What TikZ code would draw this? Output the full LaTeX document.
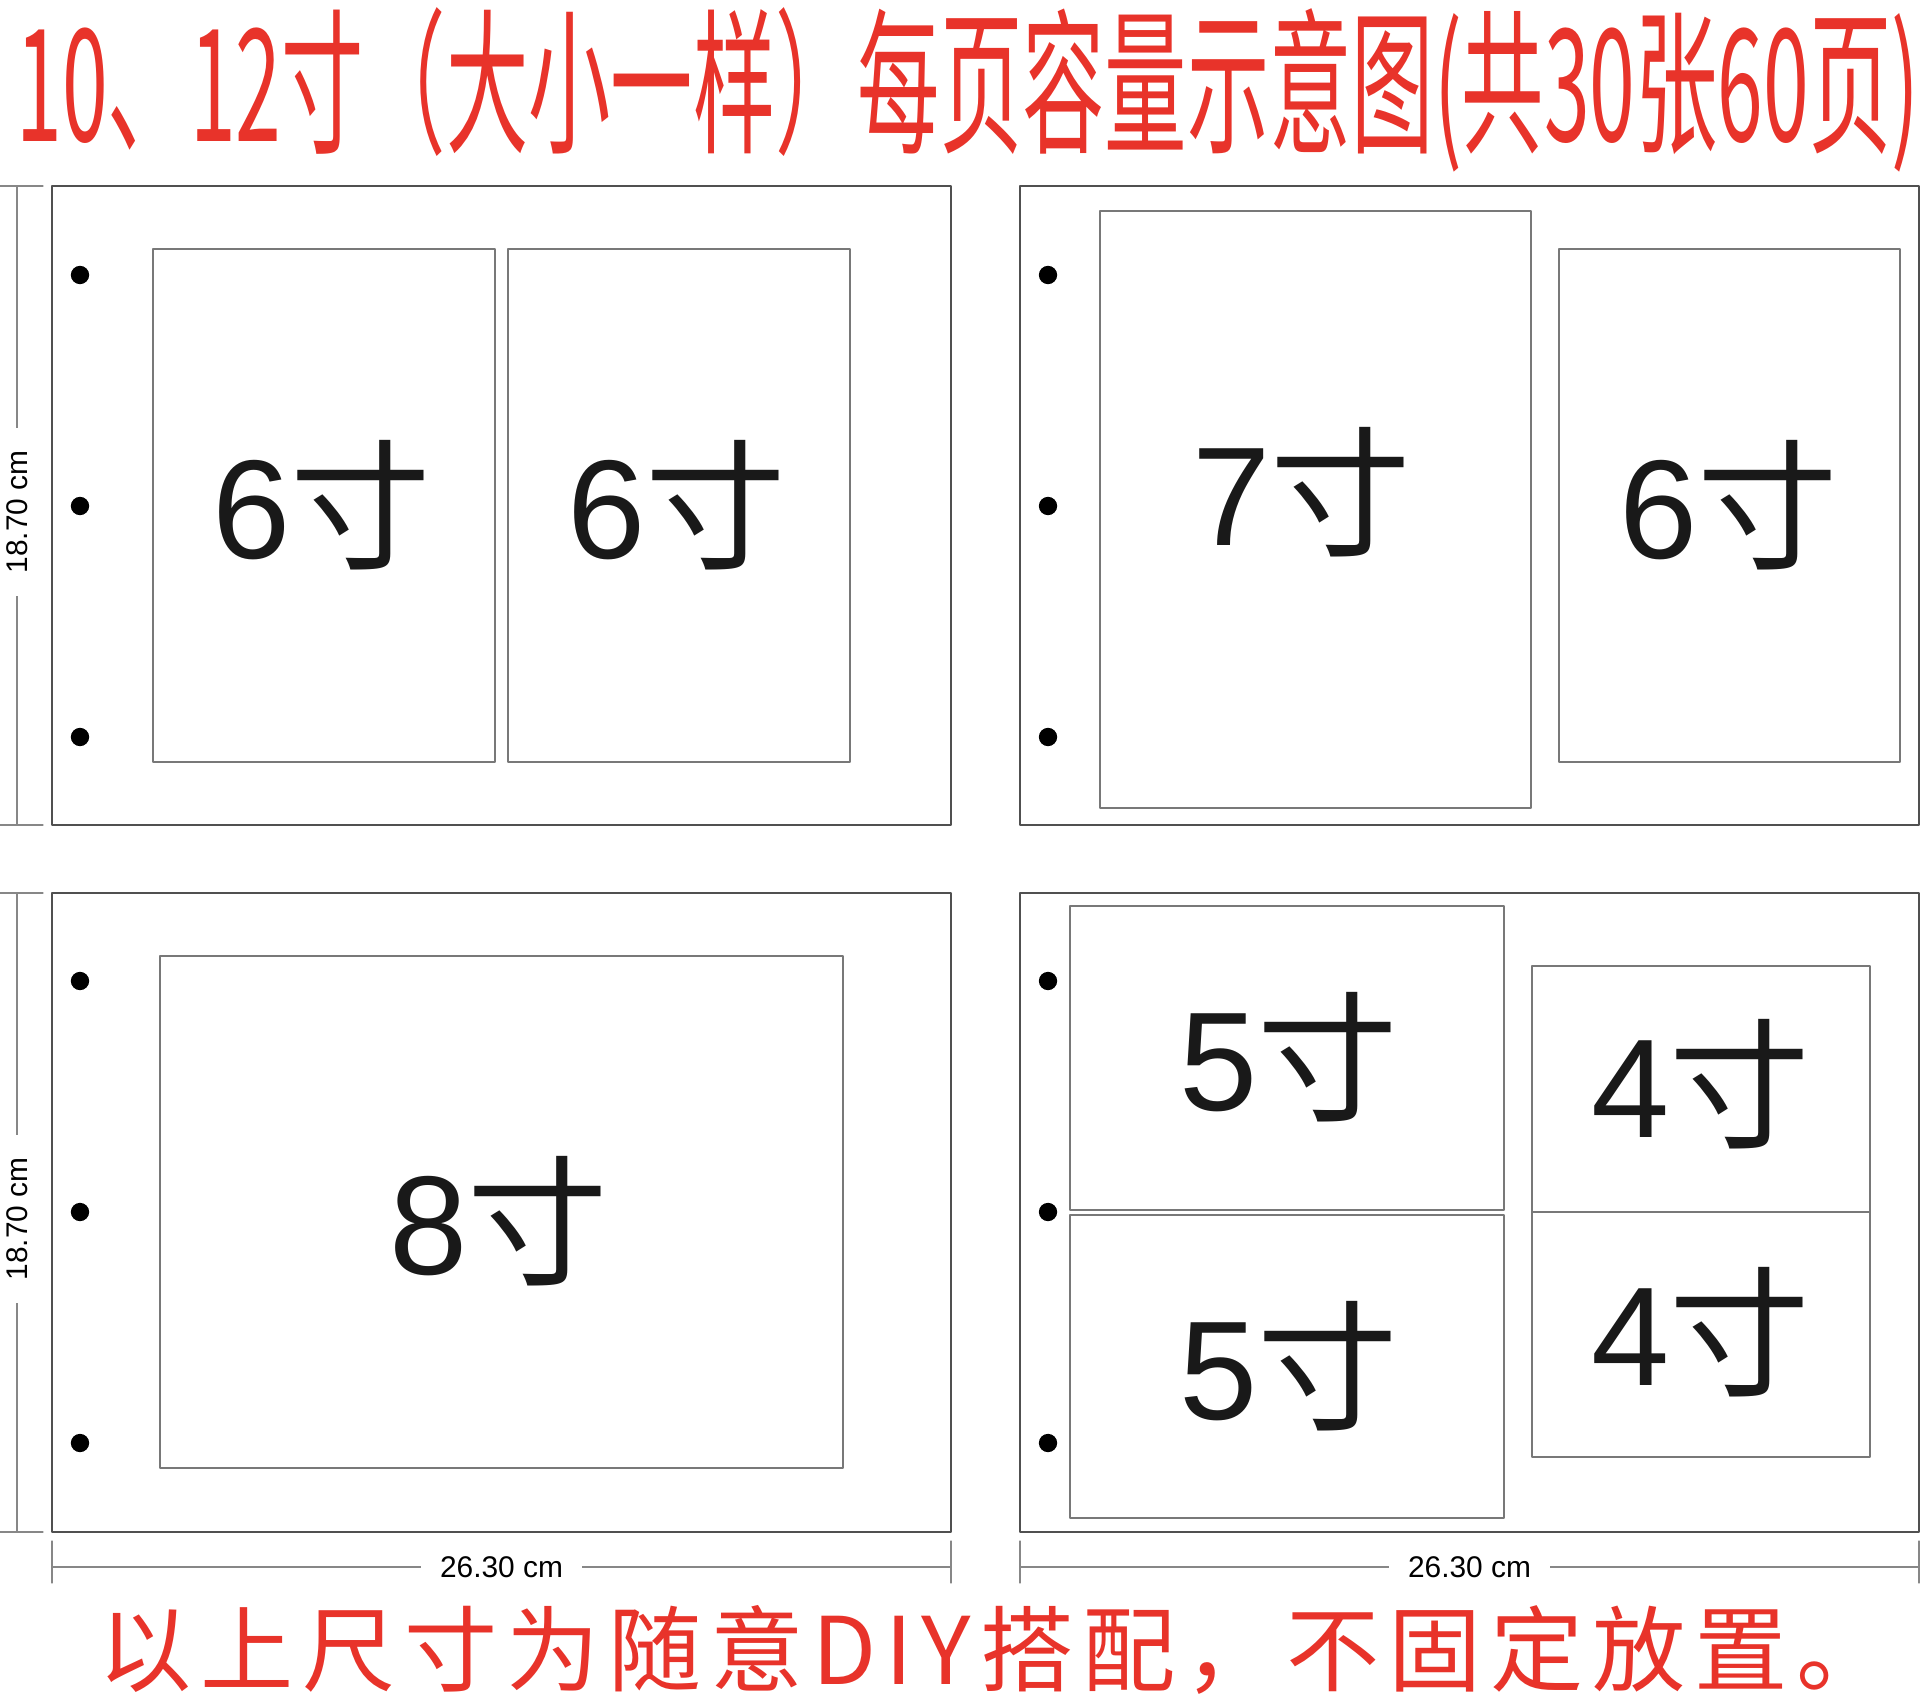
\documentclass[tikz,border=0pt]{standalone}
\usepackage{fontspec}
\setmainfont{Liberation Sans}
\newfontfamily\cjk{Noto Sans CJK SC}
\newfontfamily\cjkwide[LetterSpace=9.5]{Noto Sans CJK SC}
\usepackage{tikz}
\definecolor{titlered}{RGB}{232,51,42}
\definecolor{pagegray}{RGB}{80,80,80}
\definecolor{boxgray}{RGB}{120,120,120}
\definecolor{dimgray}{RGB}{135,135,135}
\newcommand{\cun}[1]{{\fontsize{40}{40}\selectfont #1\cjk 寸}}
\tikzset{
  page/.style={line width=0.45pt,color=pagegray},
  photo/.style={line width=0.3pt,color=boxgray},
  dim/.style={line width=0.3pt,color=dimgray},
  dimtext/.style={fill=white,inner ysep=1pt,font=\fontsize{8.5}{9}\selectfont,text=black},
  sizetext/.style={inner sep=0pt,text=black!90}
}

\begin{document}
\begin{tikzpicture}[line cap=round,line join=round,x=0.01cm,y=-0.01cm]
\useasboundingbox (0,0) rectangle (1920,1694);
\node [text=titlered,inner sep=0pt,font=\cjk\fontsize{44.5}{45}\selectfont] (title) at (968,90) {\scalebox{0.526}[1]{10、12寸（大小一样）每页容量示意图(共30张60页)}};
% pages
\draw [page] (52,186) rectangle (951,825);
\draw [page] (1020,186) rectangle (1919,825);
\draw [page] (52,893) rectangle (951,1532);
\draw [page] (1020,893) rectangle (1919,1532);
% holes
\draw [fill=black] (80,275) circle (2.4pt);
\draw [fill=black] (80,506) circle (2.4pt);
\draw [fill=black] (80,737) circle (2.4pt);
\draw [fill=black] (1048,275) circle (2.4pt);
\draw [fill=black] (1048,506) circle (2.4pt);
\draw [fill=black] (1048,737) circle (2.4pt);
\draw [fill=black] (80,981) circle (2.4pt);
\draw [fill=black] (80,1212) circle (2.4pt);
\draw [fill=black] (80,1443) circle (2.4pt);
\draw [fill=black] (1048,981) circle (2.4pt);
\draw [fill=black] (1048,1212) circle (2.4pt);
\draw [fill=black] (1048,1443) circle (2.4pt);
% photos
\draw [photo] (153,249) rectangle (495,762);
\draw [photo] (508,249) rectangle (850,762);
\draw [photo] (1100,211) rectangle (1531,808);
\draw [photo] (1559,249) rectangle (1900,762);
\draw [photo] (160,956) rectangle (843,1468);
\draw [photo] (1070,906) rectangle (1504,1210);
\draw [photo] (1070,1215) rectangle (1504,1518);
\draw [photo] (1532,966) rectangle (1870,1212);
\draw [photo] (1532,1212) rectangle (1870,1457);
\node [sizetext] (sixa) at (322,505) {\cun{6}};
\node [sizetext] (sixb) at (677,505) {\cun{6}};
\node [sizetext] (seven) at (1302,492) {\cun{7}};
\node [sizetext] (sixc) at (1729,505) {\cun{6}};
\node [sizetext] (eight) at (499,1221) {\cun{8}};
\node [sizetext] (fivea) at (1289,1057) {\cun{5}};
\node [sizetext] (fiveb) at (1289,1366) {\cun{5}};
\node [sizetext] (foura) at (1701,1084) {\cun{4}};
\node [sizetext] (fourb) at (1701,1332) {\cun{4}};
% dimensions
\draw [dim] (0,186) -- (43,186);
\draw [dim] (0,825) -- (43,825);
\draw [dim] (17,186) -- (17,825);
\node [dimtext,rotate=90,inner xsep=0.23cm] (heighta) at (17,512) {18.70 cm};
\draw [dim] (0,893) -- (43,893);
\draw [dim] (0,1532) -- (43,1532);
\draw [dim] (17,893) -- (17,1532);
\node [dimtext,rotate=90,inner xsep=0.23cm] (heightb) at (17,1219) {18.70 cm};
\draw [dim] (52,1541) -- (52,1583);
\draw [dim] (951,1541) -- (951,1583);
\draw [dim] (52,1567) -- (951,1567);
\node [dimtext,inner xsep=0.19cm] (widtha) at (501.5,1567) {26.30 cm};
\draw [dim] (1020,1541) -- (1020,1583);
\draw [dim] (1919,1541) -- (1919,1583);
\draw [dim] (1020,1567) -- (1919,1567);
\node [dimtext,inner xsep=0.19cm] (widthb) at (1469.5,1567) {26.30 cm};
\node [text=titlered,inner sep=0pt,font=\cjkwide\fontsize{26.5}{27}\selectfont] (note) at (994,1650) {以上尺寸为随意DIY搭配，不固定放置。};
\end{tikzpicture}
\end{document}
